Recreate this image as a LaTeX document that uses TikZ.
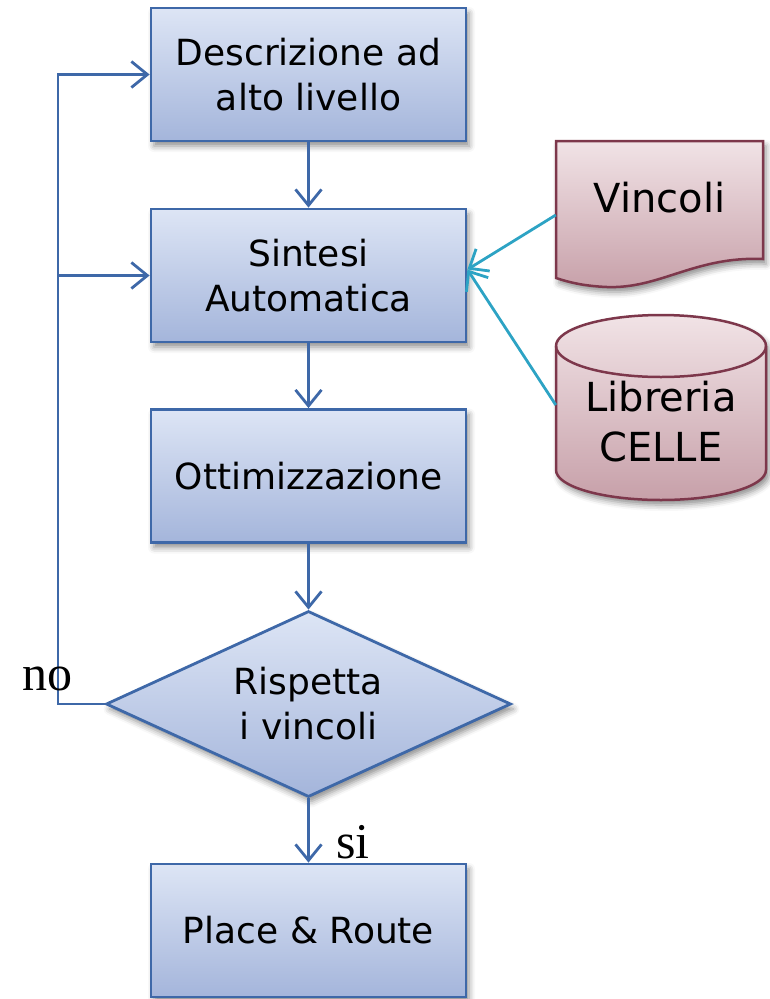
\documentclass[tikz,border=0pt]{standalone}
\usepackage{fontspec}
\setmainfont{DejaVu Sans}
\newfontfamily\labelserif{Liberation Serif}
\usetikzlibrary{shapes.geometric,arrows.meta,shadows.blur}

\definecolor{boxtop}{RGB}{221,229,245}
\definecolor{boxbot}{RGB}{164,181,219}
\definecolor{boxline}{RGB}{62,104,168}
\definecolor{redtop}{RGB}{241,227,230}
\definecolor{redbot}{RGB}{199,160,169}
\definecolor{redline}{RGB}{125,55,75}
\definecolor{cyanline}{RGB}{45,163,196}

\begin{document}
\begin{tikzpicture}[x=1pt,y=-1pt,
  softshadow/.style={blur shadow={shadow xshift=3pt,shadow yshift=-5pt,shadow blur radius=6pt,shadow opacity=45}},
  stepbox/.style={draw=boxline,line width=2.8pt,top color=boxtop,bottom color=boxbot,
    minimum width=315pt,minimum height=133pt,inner sep=0pt,align=center,
    font=\fontsize{36}{45}\selectfont,softshadow},
  decision/.style={diamond,draw=boxline,line width=2.8pt,top color=boxtop,bottom color=boxbot,
    aspect=2.18,minimum width=405pt,minimum height=186pt,inner sep=0pt,align=center,
    font=\fontsize{36}{45}\selectfont,softshadow},
  redshape/.style={draw=redline,line width=2.5pt,top color=redtop,bottom color=redbot,softshadow},
  redtext/.style={inner sep=0pt,align=center,font=\fontsize{40}{50}\selectfont},
  flow/.style={draw=boxline,line width=2.8pt,-{Straight Barb[length=16pt,width=26pt]}},
  feed/.style={draw=cyanline,line width=2.8pt,-{Straight Barb[length=16pt,width=26pt]}},
  answer/.style={inner sep=0pt,anchor=base,font=\labelserif\fontsize{50}{50}\selectfont}]

\useasboundingbox (0,0) rectangle (769,999);

% main flow
\node[stepbox] (desc)  at (308.5,74.5)  {Descrizione ad\\alto livello};
\node[stepbox] (synth) at (308.5,275.5) {Sintesi\\Automatica};
\node[stepbox] (opt)   at (308.5,476)   {Ottimizzazione};
\node[decision] (check) at (308.5,704)  {Rispetta\\i vincoli};
\node[stepbox] (pr)    at (308.5,930.5) {Place \& Route};

% constraints document
\path[redshape] (556,141) -- (763,141) -- (763,259)
  .. controls (695,256) and (660,289) .. (607,287)
  .. controls (583,286) and (568,282) .. (556,278) -- cycle;
\node[redtext,minimum width=207pt] (vinc) at (659.5,198) {Vincoli};

% cell library cylinder
\path[redshape] (556,346) -- (556,470)
  arc[start angle=180,end angle=0,x radius=105,y radius=30]
  -- (766,346)
  arc[start angle=0,end angle=-180,x radius=105,y radius=31] -- cycle;
\draw[redline,line width=2.5pt] (556,346) arc[start angle=180,end angle=0,x radius=105,y radius=31];
\node[redtext,minimum width=210pt] (lib) at (661,422) {Libreria\\CELLE};

% connectors
\coordinate (loop) at (58,0);
\draw[flow] (desc) -- (synth);
\draw[flow] (synth) -- (opt);
\draw[flow] (opt) -- (check);
\draw[flow] (check) -- (pr);
\draw[flow] (check.west) -- (check.west -| loop) |- (desc.west);
\draw[flow] (synth.west -| loop) -- (synth.west);
\draw[feed] ([yshift=-17pt]vinc.west) -- ([yshift=6pt]synth.east);
\draw[feed] ([yshift=17pt]lib.west) -- ([yshift=6pt]synth.east);

% branch labels
\node[answer] (no) at (47,690) {no};
\node[answer] (si) at (353,858) {si};
\end{tikzpicture}
\end{document}
